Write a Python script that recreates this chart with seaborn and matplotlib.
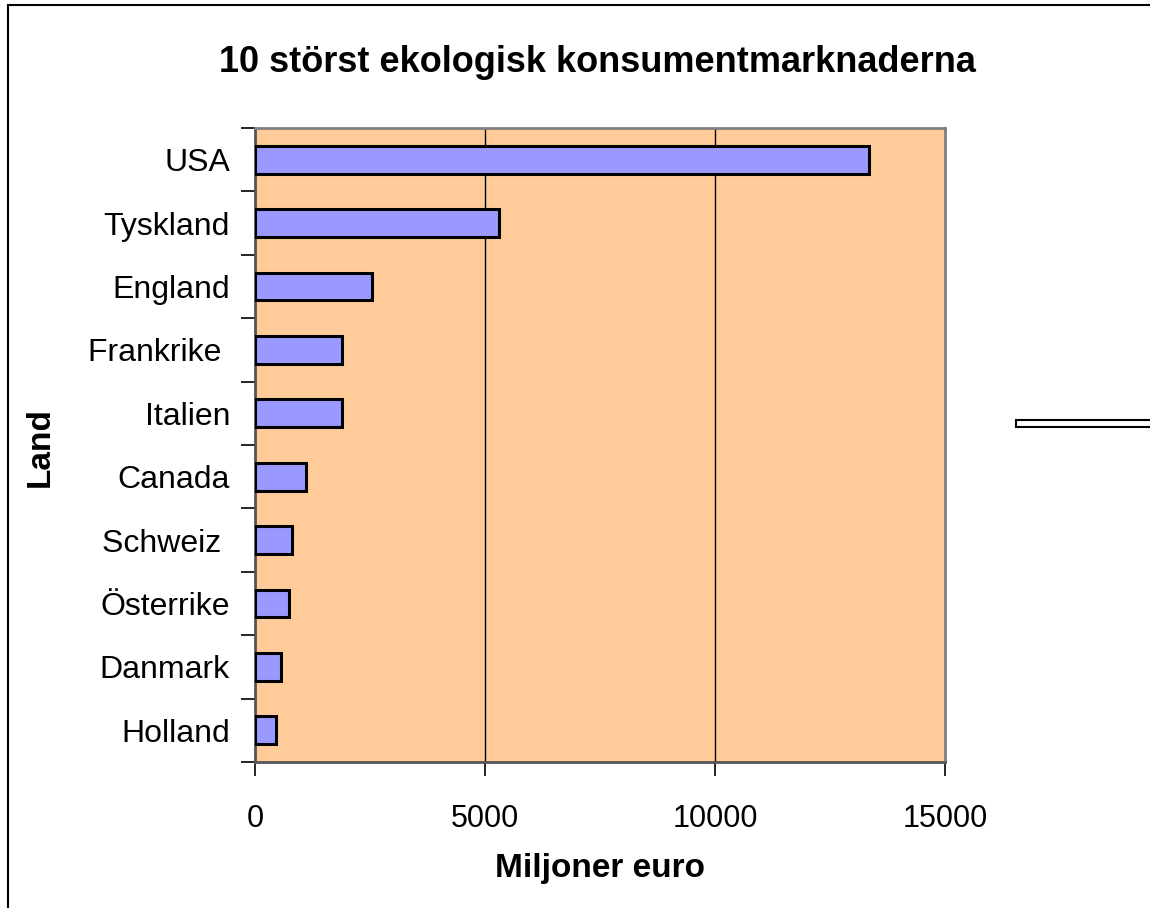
import matplotlib
matplotlib.use("Agg")
import matplotlib.pyplot as plt
import seaborn as sns
import pandas as pd
from matplotlib.patches import Rectangle

countries = ["USA", "Tyskland", "England", "Frankrike ", "Italien", "Canada",
             "Schweiz ", "Österrike", "Danmark", "Holland"]
values = [13350, 5300, 2550, 1900, 1900, 1100, 800, 740, 560, 460]
xticks = [0, 5000, 10000, 15000]

title = "10 störst ekologisk konsumentmarknaderna"
xlabel = "Miljoner euro"
ylabel = "Land"

sns.set_theme(style="white")
plt.rcParams['font.family'] = ['Liberation Sans', 'DejaVu Sans']
plt.rcParams['text.color'] = 'black'
plt.rcParams['xtick.color'] = 'black'
plt.rcParams['ytick.color'] = 'black'
plt.rcParams['xtick.labelcolor'] = 'black'
plt.rcParams['ytick.labelcolor'] = 'black'

W, H = 1150, 908
fig = plt.figure(figsize=(W / 100, H / 100), dpi=100)
fig.patch.set_facecolor("white")
ax = fig.add_axes([255 / W, 1 - 762 / H, 690 / W, 634 / H])
ax.set_facecolor("#FFCC99")

df = pd.DataFrame({"Land": countries, "Värde": values})
sns.barplot(data=df, x="Värde", y="Land", orient="h", color="#9999FF",
            saturation=1, edgecolor="black", linewidth=2.2, width=0.44, ax=ax,
            zorder=3)

ax.set_xlim(0, 15000)
ax.set_ylim(9.5, -0.5)
ax.set_xticks(xticks)
ax.set_xticklabels([str(v) for v in xticks], fontsize=22, color="black")
ax.set_yticks(range(len(countries)))
ax.set_yticklabels(countries, fontsize=23, color="black")
ax.set_yticks([i - 0.5 for i in range(len(countries) + 1)], minor=True)
ax.tick_params(axis="y", which="major", length=0, pad=18)
ax.tick_params(axis="y", which="minor", length=10, width=1.2, color="black", direction="out", left=True)
ax.tick_params(axis="x", which="major", length=10, width=1.2, color="black", direction="out", pad=20, bottom=True)
ax.set_xlabel("")
ax.set_ylabel("")

ax.set_axisbelow(True)
for xv in [5000, 10000]:
    ax.axvline(xv, color="black", lw=1, zorder=1)

for side in ["top", "right"]:
    ax.spines[side].set_color("#808080")
    ax.spines[side].set_linewidth(2)
ax.spines["left"].set_color("#555555")
ax.spines["left"].set_linewidth(2)
ax.spines["bottom"].set_color("#555555")
ax.spines["bottom"].set_linewidth(2)

fig.text(597 / W, 1 - 62 / H, title, ha="center", va="center",
         fontsize=26, fontweight="bold", color="black")
fig.text(600 / W, 1 - 868 / H, xlabel, ha="center", va="center",
         fontsize=24, fontweight="bold", color="black")
fig.text(40 / W, 1 - 447 / H, ylabel, ha="center", va="center",
         fontsize=24, fontweight="bold", rotation=90, color="black")

# outer chart frame
fig.patches.append(Rectangle((8 / W, -0.1), 1.2, 1 - 5 / H + 0.1,
                             transform=fig.transFigure, fill=False,
                             edgecolor="black", lw=1.5))
# legend remnant
fig.patches.append(Rectangle((1016 / W, 1 - 427 / H), 0.2, 7 / H,
                             transform=fig.transFigure, facecolor="white",
                             edgecolor="black", lw=1.5))

fig.savefig("out.png", dpi=100, facecolor="white")
